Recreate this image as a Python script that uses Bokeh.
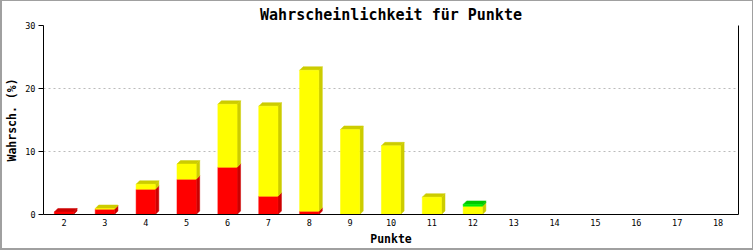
from bokeh.plotting import figure
from bokeh.models import Range1d, FixedTicker, LinearAxis
from bokeh.embed import file_html
from bokeh.resources import INLINE

points = [2, 3, 4, 5, 6, 7, 8, 9, 10, 11, 12, 13, 14, 15, 16, 17, 18]
red = [0.4, 0.85, 4.0, 5.6, 7.5, 2.9, 0.5, 0, 0, 0, 0, 0, 0, 0, 0, 0, 0]
yellow = [0, 0.1, 0.8, 2.4, 10.0, 14.3, 22.4, 13.5, 10.9, 2.75, 1.3, 0, 0, 0, 0, 0, 0]
green = [0, 0, 0, 0, 0, 0, 0, 0, 0, 0, 0.3, 0, 0, 0, 0, 0, 0]
y_ticks = [0, 10, 20, 30]

series = [(red, "#ff0000", "#cc0000"), (yellow, "#ffff00", "#cccc00"), (green, "#00ee00", "#00c800")]

MONO = "DejaVu Sans Mono"

p = figure(width=750, height=247, output_backend="svg", toolbar_location=None,
           x_range=Range1d(1.5, 18.5), y_range=Range1d(0, 30),
           min_border_left=38, min_border_right=17, min_border_top=21, min_border_bottom=37,
           title="Wahrscheinlichkeit für Punkte")
p.styles = {"border-left": "2px solid #a0a0a0", "border-bottom": "2px solid #a0a0a0",
            "border-top": "1px solid #a0a0a0", "border-right": "1px solid #a0a0a0",
            "box-sizing": "content-box"}
p.title.align = "center"
p.title.text_font = MONO
p.title.text_font_size = "15px"
p.title.text_font_style = "bold"
p.title.text_color = "black"
p.title.standoff = 4
p.outline_line_color = None
p.background_fill_color = "white"
p.border_fill_color = "white"

frame_w, frame_h = 695.0, 189.0
dx = 3.5 * 17.0 / frame_w
dy = 3.5 * 30.0 / frame_h
hw = 0.235

fx, fb, ft, fc = [], [], [], []
sxs, sys_, scs = [], [], []
bottoms = [0.0] * len(points)
tops_color = [None] * len(points)
for vals, c_front, c_dark in series:
    for i, x in enumerate(points):
        v = vals[i]
        if v <= 0:
            continue
        b = bottoms[i]
        t = b + v
        fx.append(x); fb.append(b); ft.append(t); fc.append(c_front)
        sxs.append([x + hw, x + hw + dx, x + hw + dx, x + hw])
        sys_.append([b, b + dy, t + dy, t])
        scs.append(c_dark)
        bottoms[i] = t
        tops_color[i] = c_dark

for i, x in enumerate(points):
    if tops_color[i] is None:
        continue
    T = bottoms[i]
    sxs.append([x - hw, x - hw + dx, x + hw + dx, x + hw])
    sys_.append([T, T + dy, T + dy, T])
    scs.append(tops_color[i])

p.patches(xs=sxs, ys=sys_, fill_color=scs, line_color=scs, line_width=0.5)
p.vbar(x=fx, bottom=fb, top=ft, width=2 * hw, fill_color=fc, line_color=fc, line_width=0.5)

p.xgrid.visible = False
p.ygrid.ticker = FixedTicker(ticks=y_ticks)
p.ygrid.grid_line_color = "#bbbbbb"
p.ygrid.grid_line_dash = "2 3"

xa = p.xaxis[0]
xa.ticker = FixedTicker(ticks=points)
xa.major_tick_out = 0
xa.major_tick_in = 0
xa.minor_tick_line_color = None
xa.major_label_text_font = MONO
xa.major_label_text_font_size = "8.5px"
xa.major_label_text_color = "black"
xa.major_label_standoff = 4
xa.axis_label = "Punkte"
xa.axis_label_text_font = MONO
xa.axis_label_text_font_size = "11.5px"
xa.axis_label_text_font_style = "bold"
xa.axis_label_text_color = "black"
xa.axis_label_standoff = 3
xa.axis_line_color = "black"

ya = p.yaxis[0]
ya.ticker = FixedTicker(ticks=y_ticks)
ya.major_tick_out = 5
ya.major_tick_in = 0
ya.minor_tick_line_color = None
ya.major_label_text_font = MONO
ya.major_label_text_font_size = "8.5px"
ya.major_label_text_color = "black"
ya.major_label_standoff = 3
ya.axis_label = "Wahrsch. (%)"
ya.axis_label_text_font = MONO
ya.axis_label_text_font_size = "11.5px"
ya.axis_label_text_font_style = "bold"
ya.axis_label_text_color = "black"
ya.axis_label_standoff = 3
ya.axis_line_color = "black"

ra = LinearAxis(ticker=FixedTicker(ticks=[]), major_tick_out=0, major_tick_in=0,
                minor_tick_line_color=None, major_label_text_font_size="0px",
                axis_line_color="black")
p.add_layout(ra, "right")

open("out.html", "w").write(file_html(p, INLINE))
